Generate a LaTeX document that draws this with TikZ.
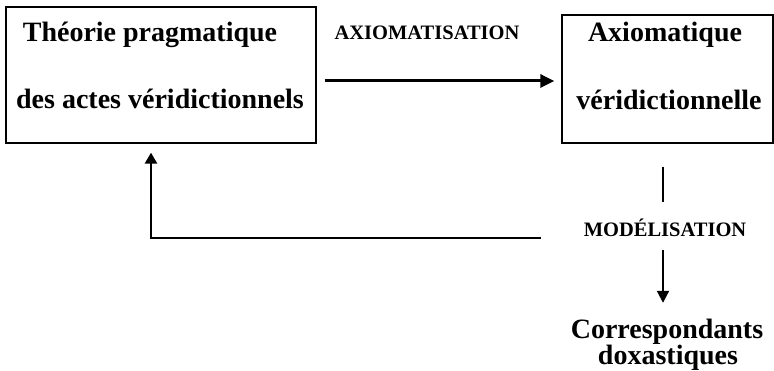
\documentclass[tikz,border=0pt]{standalone}
\usepackage{fontspec}
\setmainfont{Liberation Serif}
\usetikzlibrary{arrows.meta}

\tikzset{
  boite/.style={draw, line width=1.3pt, inner sep=0pt},
  grand/.style={font=\fontsize{28}{28}\selectfont\bfseries, inner sep=0pt,
    text height=20pt, text depth=6pt, anchor=base},
  petit/.style={font=\fontsize{20.5}{20.5}\selectfont\bfseries, inner sep=0pt,
    text height=14pt, text depth=0pt, anchor=base},
  trait/.style={line width=2pt},
  fleche/.style={line width=3pt, -{Triangle[length=14pt,width=13pt]}},
  flechefine/.style={line width=2pt, -{Triangle[length=12pt,width=12pt]}},
  retour/.style={line width=2.5pt, -{Triangle[length=11pt,width=12pt]}}
}

\begin{document}
\begin{tikzpicture}[x=1pt,y=-1pt]
            \useasboundingbox (0,0) rectangle (774,371);
            {
            
            % Drawing box Theorie
            \node [boite, minimum width=310pt, minimum height=136pt] (theorie) at (161,75) {};%
            \node [grand] (theorieA) at (150,42) {Théorie pragmatique};%
            \node [grand] (theorieB) at (160,109) {des actes véridictionnels};%
            
            % Drawing box Axiomatique
            \node [boite, minimum width=211pt, minimum height=128pt] (axiomatique) at (667.5,79) {};%
            \node [grand] (axiomatiqueA) at (665,42) {Axiomatique};%
            \node [grand] (axiomatiqueB) at (669,110) {véridictionnelle};%
            
            % Labels of the two passages
            \node [petit] (axiomatisation) at (427,40) {AXIOMATISATION};%
            \node [petit] (modelisation) at (665,237) {MODÉLISATION};%
            
            % Drawing the correspondants
            \node [grand] (corr) at (667,338) {Correspondants};%
            \node [grand] (doxa) at (668,364) {doxastiques};%
            
            % Arrow Theorie -> Axiomatique
            \draw [fleche] ([xshift=8pt,yshift=-6pt]theorie.east) -- ([xshift=-7pt,yshift=-2pt]axiomatique.west);%
            
            % Line Axiomatique -> modelisation, arrow -> correspondants
            \draw [trait] ([xshift=-4.5pt,yshift=-23pt]axiomatique.south) -- ([xshift=-2pt,yshift=21pt]modelisation.north);%
            \draw [flechefine] ([xshift=-2pt,yshift=-13pt]modelisation.south) -- ([xshift=-4pt,yshift=15pt]corr.north);%
            
            % Return arrow back to Theorie
            \coordinate (depart) at (541,238);%
            \draw [retour] (depart) -| ([xshift=-10pt,yshift=-9pt]theorie.south);%
            
            }
        \end{tikzpicture}
\end{document}
